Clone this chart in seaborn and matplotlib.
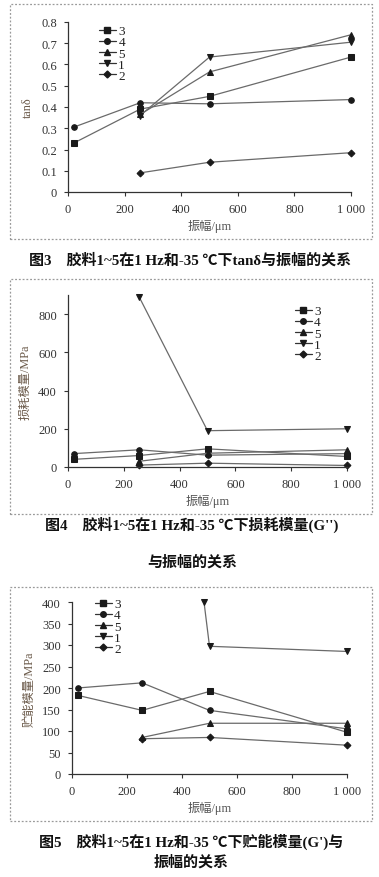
import numpy as np
import pandas as pd
import matplotlib
matplotlib.use("Agg")
import matplotlib.pyplot as plt
from matplotlib.lines import Line2D
from matplotlib.patches import Rectangle
import seaborn as sns

# amplitude (um) and series order as in the legends
amplitude = [20, 255, 500, 1000]
series_names = ["3", "4", "5", "1", "2"]

# Fig 3: tan delta
tan_3 = [0.23, 0.39, 0.45, 0.635]
tan_4 = [0.305, 0.42, 0.415, 0.435]
tan_5 = [None, 0.365, 0.565, 0.74]
tan_1 = [None, 0.36, 0.635, 0.705]
tan_2 = [None, 0.09, 0.14, 0.185]

# Fig 4: loss modulus G'' (MPa)
loss_3 = [40, 60, 95, 55]
loss_4 = [70, 90, 62, 70]
loss_5 = [None, 30, 72, 90]
loss_1 = [None, 890, 190, 200]
loss_2 = [None, 10, 20, 8]

# Fig 5: storage modulus G' (MPa); series 1 runs off the top of the axis
store_3 = [183, 148, 192, 97]
store_4 = [200, 212, 148, 105]
store_5 = [None, 85, 118, 118]
store_1_x = [480, 500, 1000]
store_1 = [400, 297, 285]
store_2 = [None, 82, 85, 67]

xticks = [0, 200, 400, 600, 800, 1000]
xticklabels = ["0", "200", "400", "600", "800", "1 000"]

markers = {"3": "s", "4": "o", "5": "^", "1": "v", "2": "D"}
msizes = {"3": 5, "4": 4, "5": 4.5, "1": 4.5, "2": 3.5}


def make_df(rows):
    recs = []
    for name, xs, ys in rows:
        for x, y in zip(xs, ys):
            if y is not None:
                recs.append({"amp": x, "val": y, "sample": name})
    return pd.DataFrame(recs)


sns.set_theme(style="white")
serif = ["Liberation Serif", "Noto Sans CJK SC", "DejaVu Sans"]
plt.rcParams["font.family"] = serif
plt.rcParams["axes.unicode_minus"] = False

fig = plt.figure(figsize=(3.79, 8.78), dpi=100)
W, H = 379, 878


def px_axes(l, t, r, b):
    return fig.add_axes([l / W, (H - b) / H, (r - l) / W, (b - t) / H])


def draw(ax, df, ylim, yticks, yticklabels, ylabel, legend_pos):
    for name in series_names:
        sub = df[df["sample"] == name]
        sns.lineplot(data=sub, x="amp", y="val", ax=ax, color="#6a6a6a",
                     lw=0.9, marker=markers[name], markersize=msizes[name],
                     markerfacecolor="#1a1a1a", markeredgecolor="#1a1a1a",
                     legend=False, errorbar=None, sort=False, clip_on=False)
    ax.set_xlim(0, 1000)
    ax.set_ylim(*ylim)
    ax.set_xticks(xticks)
    ax.set_xticklabels(xticklabels)
    ax.set_yticks(yticks)
    ax.set_yticklabels(yticklabels)
    ax.tick_params(axis="both", labelsize=9, colors="#333333", length=3,
                   width=0.8, direction="out", bottom=True, left=True, pad=5)
    for s in ["top", "right"]:
        ax.spines[s].set_visible(False)
    for s in ["left", "bottom"]:
        ax.spines[s].set_color("#333333")
        ax.spines[s].set_linewidth(0.9)
    ax.set_xlabel("振幅/μm", fontsize=8.8, color="#555555", labelpad=3)
    ax.set_ylabel(ylabel, fontsize=8.8, color="#6b5a4a", labelpad=5)
    ax.grid(False)
    handles = [Line2D([0], [0], color="#333333", lw=0.9, marker=markers[n],
                      markersize=msizes[n], markerfacecolor="#1a1a1a",
                      markeredgecolor="#1a1a1a") for n in series_names]
    leg = ax.legend(handles, series_names, loc="upper left",
                    bbox_to_anchor=legend_pos, frameon=False, fontsize=9.5,
                    handlelength=1.25, handletextpad=0.2, labelspacing=-0.08,
                    borderpad=0, borderaxespad=0)
    for t in leg.get_texts():
        t.set_color("#222222")


# panel frames
for (t, b) in [(5, 240), (280, 515), (588, 822)]:
    fig.patches.append(Rectangle((10 / W, (H - b) / H), 362 / W, (b - t) / H,
                                 transform=fig.transFigure, fill=False,
                                 ec="#9a9a9a", lw=0.9, ls=(0, (1.5, 1.5))))

ax1 = px_axes(68, 23, 351, 193)
df1 = make_df([("3", amplitude, tan_3), ("4", amplitude, tan_4),
               ("5", amplitude, tan_5), ("1", amplitude, tan_1),
               ("2", amplitude, tan_2)])
draw(ax1, df1, (0, 0.8), np.arange(0, 0.81, 0.1),
     ["0", "0.1", "0.2", "0.3", "0.4", "0.5", "0.6", "0.7", "0.8"],
     "tanδ", (0.11, 0.982))

ax2 = px_axes(68, 296, 347, 468)
df2 = make_df([("3", amplitude, loss_3), ("4", amplitude, loss_4),
               ("5", amplitude, loss_5), ("1", amplitude, loss_1),
               ("2", amplitude, loss_2)])
draw(ax2, df2, (0, 900), [0, 200, 400, 600, 800],
     ["0", "200", "400", "600", "800"], "损耗模量/MPa", (0.814, 0.942))

ax3 = px_axes(72, 603, 347, 775)
df3 = make_df([("3", amplitude, store_3), ("4", amplitude, store_4),
               ("5", amplitude, store_5), ("1", store_1_x, store_1),
               ("2", amplitude, store_2)])
draw(ax3, df3, (0, 400), np.arange(0, 401, 50),
     [str(v) for v in range(0, 401, 50)], "贮能模量/MPa", (0.084, 1.023))

cap_kw = dict(ha="center", va="center", fontsize=10.8, fontweight="bold",
              color="#111111", family=["Liberation Serif", "Noto Sans CJK SC", "DejaVu Sans"])
fig.text(190 / W, 1 - 260 / H, "图3　胶料1~5在1 Hz和-35 ℃下tanδ与振幅的关系", **cap_kw)
fig.text(192 / W, 1 - 525 / H, "图4　胶料1~5在1 Hz和-35 ℃下损耗模量(G'')", **cap_kw)
fig.text(192 / W, 1 - 562 / H, "与振幅的关系", **cap_kw)
fig.text(191 / W, 1 - 842 / H, "图5　胶料1~5在1 Hz和-35 ℃下贮能模量(G')与", **cap_kw)
fig.text(191 / W, 1 - 862 / H, "振幅的关系", **cap_kw)

fig.savefig("out.png", dpi=100)
